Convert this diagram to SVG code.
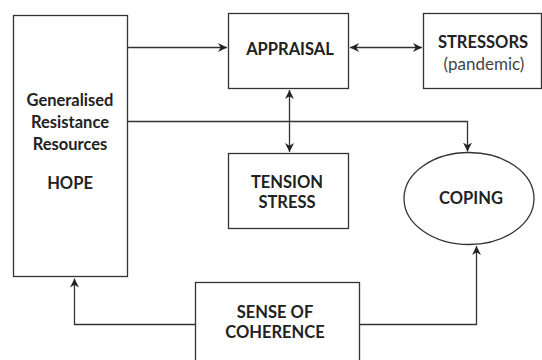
<svg xmlns="http://www.w3.org/2000/svg" width="542" height="360" viewBox="0 0 542 360">
<defs>
<style>
.box{fill:#fff;stroke:#333;stroke-width:1.3}
.t{font-family:Lato,"Open Sans","Liberation Sans",sans-serif;font-weight:bold;font-size:16.5px;fill:#222;text-anchor:middle;dominant-baseline:central}
.n{font-weight:normal;fill:#444;font-size:17px}
.c{fill:none;stroke:#333;stroke-width:1.3}
</style>
<marker id="ah" viewBox="0 0 10 10" refX="10" refY="5" markerWidth="9" markerHeight="9" markerUnits="userSpaceOnUse" orient="auto-start-reverse">
<path d="M0,0 L10,5 L0,10 L3,5 z" fill="#222"/>
</marker>
</defs>
<rect width="542" height="360" fill="#fff"/>
<g id="grr">
<rect class="box" x="13.5" y="15.5" width="114" height="261"/>
<text class="t" x="70" y="100">Generalised</text>
<text class="t" x="70" y="122">Resistance</text>
<text class="t" x="70" y="144">Resources</text>
<text class="t" x="70" y="183">HOPE</text>
</g>
<g id="appraisal">
<rect class="box" x="228.5" y="13.5" width="120" height="75"/>
<text class="t" x="290" y="49">APPRAISAL</text>
</g>
<g id="stressors">
<rect class="box" x="423.5" y="13.5" width="118" height="75"/>
<text class="t" x="483" y="42">STRESSORS</text>
<text class="t n" x="484" y="63">(pandemic)</text>
</g>
<g id="tension">
<rect class="box" x="228.5" y="153.5" width="120" height="75"/>
<text class="t" x="287" y="182">TENSION</text>
<text class="t" x="287" y="202">STRESS</text>
</g>
<g id="coping">
<ellipse class="box" cx="469" cy="198.5" rx="65" ry="46"/>
<text class="t" x="471" y="198">COPING</text>
</g>
<g id="soc">
<rect class="box" x="195.5" y="282.5" width="164" height="80"/>
<text class="t" x="275" y="312">SENSE OF</text>
<text class="t" x="275" y="332">COHERENCE</text>
</g>
<g id="connectors">
<path class="c" d="M127.5,47.5 H227" marker-end="url(#ah)"/>
<path class="c" d="M350,47.5 H422" marker-start="url(#ah)" marker-end="url(#ah)"/>
<path class="c" d="M289.5,90 V152" marker-start="url(#ah)" marker-end="url(#ah)"/>
<path class="c" d="M127.5,121.5 H467.5 V151.5" marker-end="url(#ah)"/>
<path class="c" d="M195.5,324.5 H74.5 V278.5" marker-end="url(#ah)"/>
<path class="c" d="M359.5,324.5 H476.5 V246" marker-end="url(#ah)"/>
</g>
</svg>
